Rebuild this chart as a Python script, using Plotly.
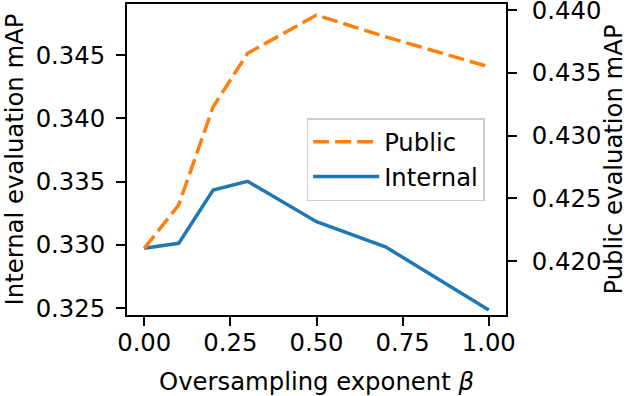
import plotly.graph_objects as go

beta = [0.0, 0.1, 0.2, 0.3, 0.5, 0.7, 1.0]
internal_map = [0.32974, 0.33013, 0.33434, 0.33503, 0.33184, 0.32986, 0.32487]
public_map = [0.42101, 0.42446, 0.43229, 0.43655, 0.43960, 0.43787, 0.43548]

x_ticks = [0.0, 0.25, 0.5, 0.75, 1.0]
left_ticks = [0.325, 0.330, 0.335, 0.340, 0.345]
right_ticks = [0.420, 0.425, 0.430, 0.435, 0.440]

FONT = "DejaVu Sans"
FS = 24.3

fig = go.Figure()
fig.add_trace(go.Scatter(
    x=beta, y=public_map, name="Public", mode="lines", xaxis="x2", yaxis="y2",
    line=dict(color="#ff7f0e", width=3.5, dash="16px,6px"),
))
fig.add_trace(go.Scatter(
    x=beta, y=internal_map, name="Internal", mode="lines", xaxis="x", yaxis="y",
    line=dict(color="#1f77b4", width=3.5),
))

axis_common = dict(
    showgrid=False, zeroline=False, showline=True, linecolor="black", linewidth=1.9,
    ticks="outside", ticklen=9, tickwidth=1.9, tickcolor="black",
    tickfont=dict(family=FONT, size=FS, color="black"),
    automargin=False, ticklabeloverflow="allow",
)

fig.update_layout(
    width=628, height=396,
    margin=dict(l=127, r=122, t=4, b=81),
    paper_bgcolor="white", plot_bgcolor="white",
    font=dict(family=FONT, size=FS, color="black"),
    showlegend=True,
    legend=dict(
        x=0.474, y=0.5, xanchor="left", yanchor="middle",
        bgcolor="white", bordercolor="#cccccc", borderwidth=1.5,
        font=dict(family=FONT, size=FS, color="black"),
        tracegroupgap=0, itemwidth=66,
    ),
    # axis carrying the spine and tick marks
    xaxis=dict(
        **axis_common, range=[-0.05, 1.05], tickvals=x_ticks,
        mirror=True, showticklabels=False,
    ),
    # overlaid axis carrying only the tick labels and the title
    xaxis2=dict(
        showgrid=False, zeroline=False, showline=False,
        ticks="outside", ticklen=6, tickwidth=1, tickcolor="rgba(0,0,0,0)",
        tickfont=dict(family=FONT, size=FS, color="black"),
        automargin=False, ticklabeloverflow="allow",
        overlaying="x", side="bottom", anchor="y2",
        range=[-0.05, 1.05], tickvals=x_ticks, tickformat=".2f",
        title=dict(text="Oversampling exponent <i>β</i>", font=dict(family=FONT, size=FS), standoff=19),
    ),
    yaxis=dict(
        **axis_common, range=[0.32447, 0.34903], tickvals=left_ticks, tickformat=".3f",
        ticklabelstandoff=6,
        title=dict(text="Internal evaluation mAP", font=dict(family=FONT, size=FS), standoff=8),
    ),
    yaxis2=dict(
        **axis_common, range=[0.4157, 0.44048], tickvals=right_ticks, tickformat=".3f",
        overlaying="y", side="right", anchor="x2", ticklabelstandoff=10,
        title=dict(text="Public evaluation mAP", font=dict(family=FONT, size=FS), standoff=15),
    ),
)

fig.write_html("out.html", config={"displayModeBar": False},
               post_script="document.body.style.margin='0';")
